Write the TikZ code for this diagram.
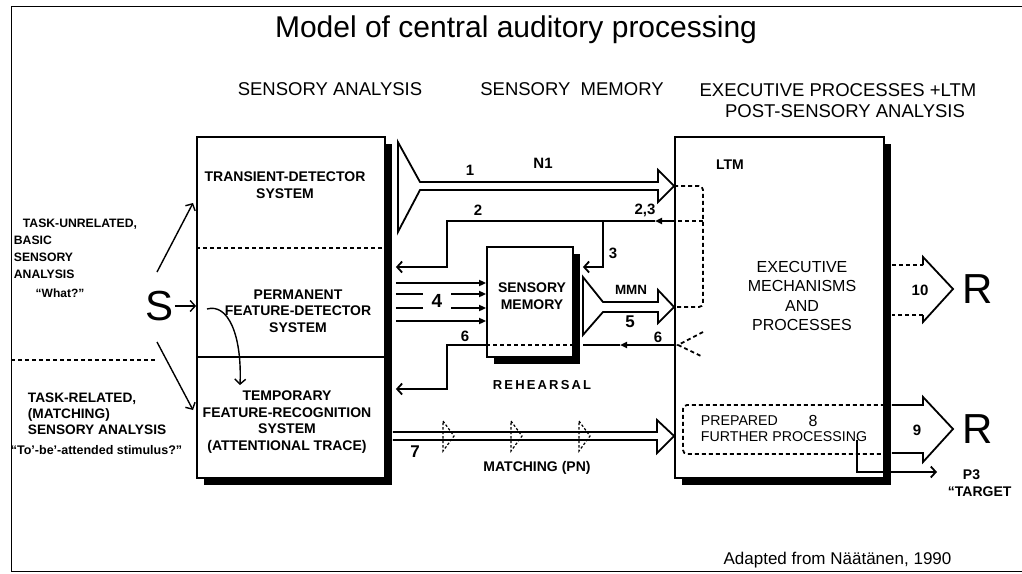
\documentclass[tikz,border=0pt]{standalone}
\usepackage{fontspec}
\setmainfont{Liberation Sans}
\usetikzlibrary{arrows.meta,shadows,calc}
\newcommand{\fsz}[2]{\fontsize{#1pt}{#2pt}\selectfont}

\begin{document}
\begin{tikzpicture}[x=1pt,y=-1pt,line width=1.8pt,
    sysbox/.style={draw,fill=white,line width=1.8pt,
      drop shadow={shadow xshift=7pt,shadow yshift=-7pt,fill=black,opacity=1}},
    lbl/.style={font=\bfseries\fsz{14}{16.7},align=center,inner sep=0pt},
    hdr/.style={font=\fsz{18.5}{21},inner sep=0pt,anchor=base},
    num/.style={font=\bfseries\fsz{15}{17},inner sep=0pt},
    bigl/.style={font=\fsz{42}{42},inner sep=0pt},
    arr/.style={-{Straight Barb[length=5pt,width=11pt]}},
    midarr/.style={-{Triangle[length=7pt,width=6pt]}},
    dsh/.style={dash pattern=on 4pt off 3pt}]

    \useasboundingbox (0,0) rectangle (1022,573);

    % Rahmen
    \draw[line width=0.9pt] (1022,6) -- (11,6) -- (11,571) -- (1022,571);
    \draw[dsh] (11,360) -- (155,360);

    % Kaesten
    \node[sysbox,minimum width=188pt,minimum height=341pt] (sa) at (291,307.5) {};
    \node[sysbox,minimum width=86pt,minimum height=110pt] (sm) at (530,302) {};
    \node[sysbox,minimum width=209pt,minimum height=341pt] (ltm) at (779.5,307.5) {};
    \coordinate (saR) at ($(sa.east)+(10,0)$);
    \coordinate (smR) at ($(sm.east)+(9,0)$);
    \coordinate (ltmR) at ($(ltm.east)+(7,0)$);

    \draw[dsh] (sa.west |- 0,248) -- (sa.east |- 0,248);
    \draw (sa.west |- 0,357) -- (sa.east |- 0,357);
    \draw[dsh,rounded corners=4pt] (ltm.east |- 0,405) -- (683,405) -- (683,454) -- (ltm.east |- 0,454);

    % Ueberschriften
    \node[font=\fsz{30}{31},inner sep=0pt,anchor=base] (title) at (516,37) {Model of central auditory processing};
    \node[hdr] (h1) at (330,95) {SENSORY ANALYSIS};
    \node[hdr] (h2) at (572,95) {SENSORY\ \ MEMORY};
    \node[hdr] (h3) at (838,96) {EXECUTIVE PROCESSES +LTM};
    \node[hdr] (h4) at (845,117) {POST-SENSORY ANALYSIS};

    % linke Spalte
    \node[font=\bfseries\fsz{12.2}{17},align=left,anchor=north west,inner sep=0pt] (unrel) at (13,218.5)
        {\hspace{9pt}TASK-UNRELATED,\\BASIC\\SENSORY\\ANALYSIS};
    \node[font=\bfseries\fsz{12}{14},inner sep=0pt] (what) at (60,293) {“What?”};
    \node[font=\bfseries\fsz{13.7}{16},align=left,anchor=north west,inner sep=0pt] (rel) at (27,392)
        {TASK-RELATED,\\(MATCHING)\\SENSORY ANALYSIS};
    \node[font=\bfseries\fsz{12.5}{14},inner sep=0pt,anchor=west] (tobe) at (10,450) {“To’-be’-attended stimulus?”};
    \node[bigl] (s) at (160,306) {S};
    \coordinate (up0) at (157,272);
    \coordinate (up1) at (193,203);
    \coordinate (dn0) at (157,342);
    \coordinate (dn1) at (193,410);
    \draw[arr,line width=1.4pt] (s.east) -- (s.east -| sa.west);
    \draw[arr,line width=1.4pt] (up0) -- (up1);
    \draw[arr,line width=1.4pt] (dn0) -- (dn1);

    % Text in den Kaesten
    \node[lbl] (tds) at (285,185) {TRANSIENT-DETECTOR\\SYSTEM};
    \node[lbl] (pfd) at (298,311) {PERMANENT\\FEATURE-DETECTOR\\SYSTEM};
    \node[lbl] (tfr) at (287,422) {TEMPORARY\\FEATURE-RECOGNITION\\SYSTEM\\(ATTENTIONAL TRACE)};
    \node[lbl] (smt) at (532,296.5) {SENSORY\\MEMORY};
    \node[lbl] (ltmt) at (730,165) {LTM};
    \node[font=\fsz{16}{19.3},align=center,inner sep=0pt] (exe) at (802,296) {EXECUTIVE\\MECHANISMS\\AND\\PROCESSES};
    \node[font=\fsz{14.2}{16},align=left,anchor=west,inner sep=0pt] (prep) at (700,429) {PREPARED\\FURTHER PROCESSING};
    \node[num,font=\fsz{16}{17}] (n8) at (813,421) {8};

    % Bogen im linken Kasten
    \coordinate (c0) at (207,309);
    \coordinate (c1) at (240,385);
    \draw[arr,line width=1.4pt] (c0) .. controls (228,303) and (242,335) .. (c1);

    % N1-Trichter
    \draw[fill=white] ($(saR |- 0,142)+(2,0)$) -- (420,182) -- (658,182) -- (658,170) -- (ltm.west |- 0,186)
        -- (658,202) -- (658,190) -- (420,190) -- ($(saR |- 0,232)+(2,0)$) -- cycle;

    % Rueckwege 2 und 3
    \draw[midarr] (ltm.west |- 0,221) -- (655,221);
    \draw[arr] (655,221) -- (447,221) -- (447,267) -- (saR |- 0,267);
    \draw[arr] (603,221) -- (603,267) -- (smR |- 0,267);

    % Pfeile 4
    \foreach \y in {283,294,308,321}
        \draw[midarr] (saR |- 0,\y) -- (sm.west |- 0,\y);
    \node[num,fill=white,inner xsep=9pt,inner ysep=2pt,font=\bfseries\fsz{19}{19}] (n4) at (437,301) {4};

    % Weg 6
    \draw[midarr] (ltm.west |- 0,345) -- (620,345);
    \draw (620,345) -- (smR |- 0,345);
    \draw[dsh] (sm.west |- 0,345) -- (sm.east |- 0,345);
    \draw[arr] (sm.west |- 0,345) -- (447,345) -- (447,389) -- (saR |- 0,389);
    \draw[dsh] (703,332) -- (678,345) -- (703,357);

    % MMN-Trichter
    \draw[fill=white] (smR |- 0,277) -- (603,302) -- (658,302) -- (658,290) -- (ltm.west |- 0,307)
        -- (658,323) -- (658,312) -- (603,312) -- (smR |- 0,335) -- cycle;

    % gestrichelte Schleife im LTM
    \draw[dsh,rounded corners=4pt] (ltm.west |- 0,186) -- (703,186) -- (703,307) -- (ltm.west |- 0,307);
    \draw[dsh] (703,221) -- (ltm.west |- 0,221);

    % Matching 7
    \draw ($(sa.east |- 0,432)+(7,0)$) -- (657,432) -- (657,420) -- (ltm.west |- 0,436) -- (657,453) -- (657,440)
        -- ($(sa.east |- 0,440)+(7,0)$);
    \foreach \x in {447,515,583}
        \draw[line width=1.2pt,dash pattern=on 2.5pt off 2pt] (\x-4,421) -- (\x+7,436) -- (\x-4,451) -- cycle;

    % Ausgaenge 10 und 9
    \draw[dsh] (ltmR |- 0,265) -- (923,265);
    \draw (923,265) -- (923,257) -- (953,289) -- (923,322) -- (923,315);
    \draw[dsh] (923,315) -- (ltmR |- 0,315);
    \draw (ltmR |- 0,405) -- (923,405) -- (923,397) -- (953,429) -- (923,462) -- (923,453) -- (ltmR |- 0,453);
    \coordinate (pp) at (857,440);
    \coordinate (pq) at (937,472);
    \draw[arr] (pp) -- (pp |- pq) -- (pq);

    % Beschriftungen
    \node[num] (n1) at (470,170) {1};
    \node[lbl,font=\bfseries\fsz{15}{17}] (tn1) at (543,163) {N1};
    \node[num] (n2) at (478,210) {2};
    \node[num] (n23) at (645,210) {2,3};
    \node[num] (n3) at (613,253) {3};
    \node[num] (n6a) at (465,336) {6};
    \node[num] (n6b) at (658,337) {6};
    \node[lbl,font=\bfseries\fsz{13.4}{15}] (mmn) at (631,290) {MMN};
    \node[num,font=\bfseries\fsz{17}{17}] (n5) at (630,322) {5};
    \node[num,font=\bfseries\fsz{17}{17}] (n7) at (415,452) {7};
    \node[lbl,font=\bfseries\fsz{13}{15}] (reh) at (542,385) {R\,E\,H\,E\,A\,R\,S\,A\,L};
    \node[lbl] (match) at (537,468) {MATCHING (PN)};
    \node[num] (n10) at (920,290) {10};
    \node[num] (n9) at (917,430) {9};
    \node[bigl] (r1) at (978,289) {R};
    \node[bigl] (r2) at (978,429) {R};
    \node[lbl,anchor=west] (p3) at (962,475) {P3};
    \node[lbl,anchor=west] (targ) at (947,492) {“TARGET};
    \node[font=\fsz{17}{18},inner sep=0pt] (adapt) at (837.5,560) {Adapted from Näätänen, 1990};
\end{tikzpicture}
\end{document}
